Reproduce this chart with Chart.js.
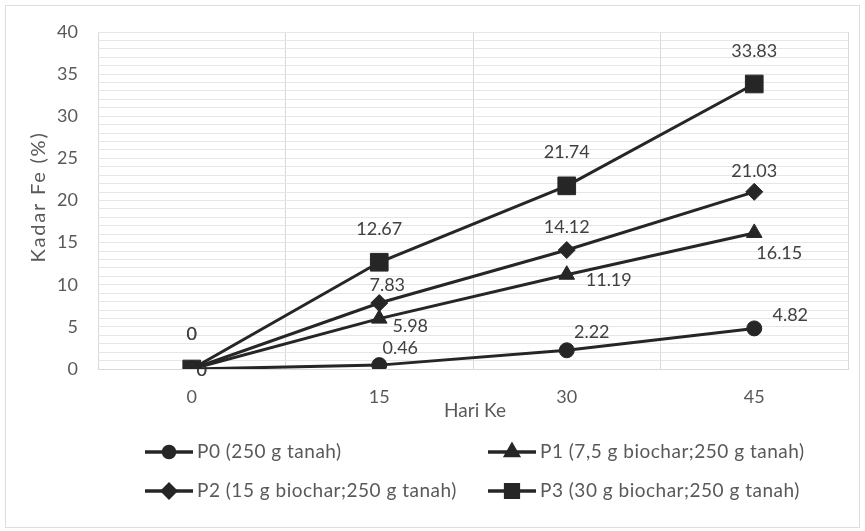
<!DOCTYPE html>
<html>
<head>
<meta charset="utf-8">
<script src="https://cdn.jsdelivr.net/npm/chart.js@4.4.1/dist/chart.umd.min.js"></script>
<style>
  html, body { margin: 0; padding: 0; background: #fff; }
  #wrap { position: relative; width: 865px; height: 531px; }
  #frame { position: absolute; left: 5px; top: 5px; width: 855px; height: 523px;
           border: 1px solid #dedede; box-sizing: border-box; pointer-events: none; }
  canvas { position: absolute; left: 0; top: 0; }
</style>
</head>
<body>
<div id="wrap">
  <canvas id="chart" width="865" height="531"></canvas>
  <div id="frame"></div>
</div>
<script>
// ── Data ────────────────────────────────────────────────────────────────────
const DAYS = ['0', '15', '30', '45'];
const P0 = [0, 0.46, 2.22, 4.82];
const P1 = [0, 5.98, 11.19, 16.15];
const P2 = [0, 7.83, 14.12, 21.03];
const P3 = [0, 12.67, 21.74, 33.83];
const NAMES = [
  'P0 (250 g tanah)',
  'P1 (7,5 g biochar;250 g tanah)',
  'P2 (15 g biochar;250 g tanah)',
  'P3 (30 g biochar;250 g tanah)',
];
const Y_TITLE = 'Kadar Fe (%)';
const X_TITLE = 'Hari Ke';

// ── Style ───────────────────────────────────────────────────────────────────
const FONT_FAMILY = 'Lato, "Liberation Sans", sans-serif';
const TXT   = '#595959';
const LBL   = '#404040';
const LINE  = '#262626';
const GRID  = '#e6e6e6';
const VGRID = '#d9d9d9';

// marker style per series (chart radius, legend radius)
const MARKERS = [
  { style: 'circle',   r: 7.5,  lr: 5.5 },
  { style: 'triangle', r: 9,    lr: 7 },
  { style: 'rectRot',  r: 8.5,  lr: 6.5 },
  { style: 'rect',     r: 12.5, lr: 9 },
];

// data label offsets (dx, dy) per series, per point
const LABEL_OFFSETS = [
  [[10, 1],  [21, -17], [25, -18], [36, -13]],
  [[10, 1],  [31, 8],   [42, 5],   [25, 20]],
  [[0, -35], [8, -18],  [0, -23],  [0, -21]],
  [[0, -35], [0, -33],  [0, -34],  [0, -33]],
];

function lineDS(label, data, i) {
  const m = MARKERS[i];
  return {
    label, data,
    borderColor: LINE,
    backgroundColor: LINE,
    borderWidth: 3,
    pointStyle: m.style,
    pointRadius: m.r,
    pointHoverRadius: m.r,
    pointBackgroundColor: LINE,
    pointBorderColor: LINE,
    pointBorderWidth: 1,
    tension: 0,
    fill: false,
  };
}

// ── Extras: titles, data labels, legend ─────────────────────────────────────
const extras = {
  id: 'extras',
  beforeDatasetsDraw(chart) {
    const ctx = chart.ctx;
    ctx.save();
    ctx.font = `18px ${FONT_FAMILY}`;
    ctx.fillStyle = LBL;
    ctx.textAlign = 'center';
    ctx.textBaseline = 'middle';
    chart.data.datasets.forEach((ds, i) => {
      const meta = chart.getDatasetMeta(i);
      meta.data.forEach((pt, j) => {
        const [dx, dy] = LABEL_OFFSETS[i][j];
        ctx.fillText(String(ds.data[j]), pt.x + dx, pt.y + dy);
      });
    });
    ctx.restore();
  },
  afterDraw(chart) {
    const ctx = chart.ctx;
    const area = chart.chartArea;
    ctx.save();
    ctx.fillStyle = TXT;
    ctx.textAlign = 'center';
    ctx.textBaseline = 'middle';

    // axis titles
    ctx.font = `19px ${FONT_FAMILY}`;
    ctx.fillText(X_TITLE, 475, 411);
    ctx.save();
    ctx.font = `20px ${FONT_FAMILY}`;
    ctx.letterSpacing = '1.8px';
    ctx.translate(39, 197);
    ctx.rotate(-Math.PI / 2);
    ctx.fillText(Y_TITLE, 0, 0);
    ctx.restore();

    // legend: 2 x 2
    const colX = [145, 488];
    const rowY = [452, 491];
    ctx.font = `19px ${FONT_FAMILY}`;
    ctx.letterSpacing = '0.5px';
    ctx.textAlign = 'left';
    chart.data.datasets.forEach((ds, i) => {
      const x = colX[i % 2];
      const y = rowY[Math.floor(i / 2)];
      ctx.strokeStyle = LINE;
      ctx.lineWidth = 3.5;
      ctx.beginPath();
      ctx.moveTo(x, y);
      ctx.lineTo(x + 48, y);
      ctx.stroke();
      ctx.fillStyle = LINE;
      Chart.helpers.drawPoint(ctx, {
        pointStyle: MARKERS[i].style, radius: MARKERS[i].lr, rotation: 0, borderWidth: 1,
      }, x + 24, y);
      ctx.fill();
      ctx.fillStyle = TXT;
      ctx.fillText(ds.label, x + 52, y);
    });
    ctx.restore();
  },
};

const TICK_FONT = { family: FONT_FAMILY, size: 18 };

new Chart(document.getElementById('chart').getContext('2d'), {
  type: 'line',
  data: {
    labels: DAYS,
    datasets: [P0, P1, P2, P3].map((d, i) => lineDS(NAMES[i], d, i)),
  },
  options: {
    responsive: false, animation: false,
    layout: { padding: { top: 32, right: 17, left: 0, bottom: 0 } },
    plugins: { legend: { display: false }, tooltip: { enabled: false } },
    scales: {
      x: {
        offset: true,
        grid: { offset: true, color: VGRID, drawTicks: false },
        border: { color: VGRID },
        ticks: { color: TXT, font: TICK_FONT, padding: 17 },
        afterFit: s => { s.height = 162; },
      },
      y: {
        min: 0, max: 40,
        grid: { color: GRID, drawTicks: false },
        border: { display: false },
        ticks: {
          stepSize: 1, autoSkip: false, color: TXT, font: TICK_FONT, padding: 20,
          callback: v => (v % 5 === 0 ? v : ''),
        },
        afterFit: s => { s.width = 98; },
      },
    },
  },
  plugins: [extras],
});
</script>
</body>
</html>
